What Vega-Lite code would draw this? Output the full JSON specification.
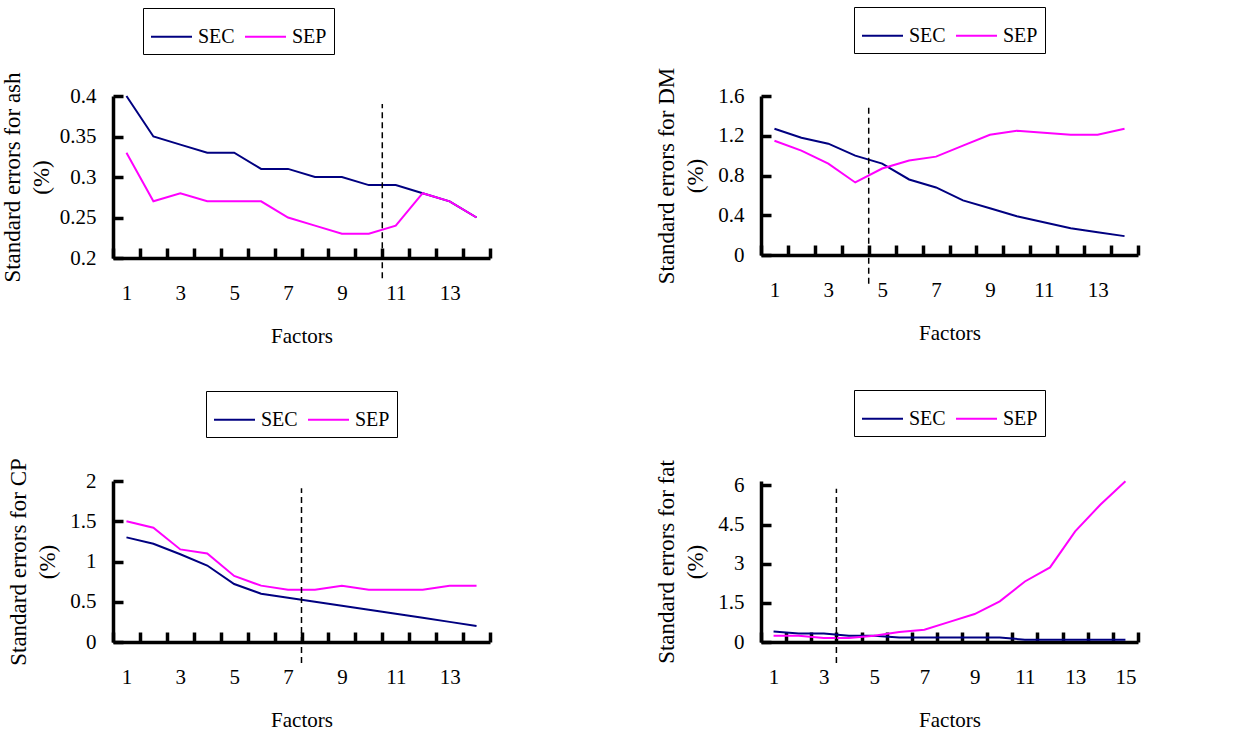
{
  "$schema": "https://vega.github.io/schema/vega-lite/v6.json",
  "padding": {"left": 1, "top": 6, "right": 5, "bottom": 5},
  "background": "white",
  "datasets": {
    "ash": [
      {"factor": 1, "series": "SEC", "value": 0.40}, {"factor": 2, "series": "SEC", "value": 0.35}, {"factor": 3, "series": "SEC", "value": 0.34}, {"factor": 4, "series": "SEC", "value": 0.33}, {"factor": 5, "series": "SEC", "value": 0.33}, {"factor": 6, "series": "SEC", "value": 0.31}, {"factor": 7, "series": "SEC", "value": 0.31}, {"factor": 8, "series": "SEC", "value": 0.30}, {"factor": 9, "series": "SEC", "value": 0.30}, {"factor": 10, "series": "SEC", "value": 0.29}, {"factor": 11, "series": "SEC", "value": 0.29}, {"factor": 12, "series": "SEC", "value": 0.28}, {"factor": 13, "series": "SEC", "value": 0.27}, {"factor": 14, "series": "SEC", "value": 0.25},
      {"factor": 1, "series": "SEP", "value": 0.33}, {"factor": 2, "series": "SEP", "value": 0.27}, {"factor": 3, "series": "SEP", "value": 0.28}, {"factor": 4, "series": "SEP", "value": 0.27}, {"factor": 5, "series": "SEP", "value": 0.27}, {"factor": 6, "series": "SEP", "value": 0.27}, {"factor": 7, "series": "SEP", "value": 0.25}, {"factor": 8, "series": "SEP", "value": 0.24}, {"factor": 9, "series": "SEP", "value": 0.23}, {"factor": 10, "series": "SEP", "value": 0.23}, {"factor": 11, "series": "SEP", "value": 0.24}, {"factor": 12, "series": "SEP", "value": 0.28}, {"factor": 13, "series": "SEP", "value": 0.27}, {"factor": 14, "series": "SEP", "value": 0.25}
    ],
    "dm": [
      {"factor": 1, "series": "SEC", "value": 1.27}, {"factor": 2, "series": "SEC", "value": 1.18}, {"factor": 3, "series": "SEC", "value": 1.12}, {"factor": 4, "series": "SEC", "value": 1.00}, {"factor": 5, "series": "SEC", "value": 0.92}, {"factor": 6, "series": "SEC", "value": 0.76}, {"factor": 7, "series": "SEC", "value": 0.68}, {"factor": 8, "series": "SEC", "value": 0.55}, {"factor": 9, "series": "SEC", "value": 0.47}, {"factor": 10, "series": "SEC", "value": 0.39}, {"factor": 11, "series": "SEC", "value": 0.33}, {"factor": 12, "series": "SEC", "value": 0.27}, {"factor": 13, "series": "SEC", "value": 0.23}, {"factor": 14, "series": "SEC", "value": 0.19},
      {"factor": 1, "series": "SEP", "value": 1.15}, {"factor": 2, "series": "SEP", "value": 1.05}, {"factor": 3, "series": "SEP", "value": 0.92}, {"factor": 4, "series": "SEP", "value": 0.73}, {"factor": 5, "series": "SEP", "value": 0.87}, {"factor": 6, "series": "SEP", "value": 0.95}, {"factor": 7, "series": "SEP", "value": 0.99}, {"factor": 8, "series": "SEP", "value": 1.10}, {"factor": 9, "series": "SEP", "value": 1.21}, {"factor": 10, "series": "SEP", "value": 1.25}, {"factor": 11, "series": "SEP", "value": 1.23}, {"factor": 12, "series": "SEP", "value": 1.21}, {"factor": 13, "series": "SEP", "value": 1.21}, {"factor": 14, "series": "SEP", "value": 1.27}
    ],
    "cp": [
      {"factor": 1, "series": "SEC", "value": 1.30}, {"factor": 2, "series": "SEC", "value": 1.22}, {"factor": 3, "series": "SEC", "value": 1.09}, {"factor": 4, "series": "SEC", "value": 0.95}, {"factor": 5, "series": "SEC", "value": 0.72}, {"factor": 6, "series": "SEC", "value": 0.60}, {"factor": 7, "series": "SEC", "value": 0.55}, {"factor": 8, "series": "SEC", "value": 0.50}, {"factor": 9, "series": "SEC", "value": 0.45}, {"factor": 10, "series": "SEC", "value": 0.40}, {"factor": 11, "series": "SEC", "value": 0.35}, {"factor": 12, "series": "SEC", "value": 0.30}, {"factor": 13, "series": "SEC", "value": 0.25}, {"factor": 14, "series": "SEC", "value": 0.20},
      {"factor": 1, "series": "SEP", "value": 1.50}, {"factor": 2, "series": "SEP", "value": 1.42}, {"factor": 3, "series": "SEP", "value": 1.15}, {"factor": 4, "series": "SEP", "value": 1.10}, {"factor": 5, "series": "SEP", "value": 0.82}, {"factor": 6, "series": "SEP", "value": 0.70}, {"factor": 7, "series": "SEP", "value": 0.65}, {"factor": 8, "series": "SEP", "value": 0.65}, {"factor": 9, "series": "SEP", "value": 0.70}, {"factor": 10, "series": "SEP", "value": 0.65}, {"factor": 11, "series": "SEP", "value": 0.65}, {"factor": 12, "series": "SEP", "value": 0.65}, {"factor": 13, "series": "SEP", "value": 0.70}, {"factor": 14, "series": "SEP", "value": 0.70}
    ],
    "fat": [
      {"factor": 1, "series": "SEC", "value": 0.40}, {"factor": 2, "series": "SEC", "value": 0.33}, {"factor": 3, "series": "SEC", "value": 0.33}, {"factor": 4, "series": "SEC", "value": 0.24}, {"factor": 5, "series": "SEC", "value": 0.24}, {"factor": 6, "series": "SEC", "value": 0.17}, {"factor": 7, "series": "SEC", "value": 0.17}, {"factor": 8, "series": "SEC", "value": 0.17}, {"factor": 9, "series": "SEC", "value": 0.17}, {"factor": 10, "series": "SEC", "value": 0.17}, {"factor": 11, "series": "SEC", "value": 0.09}, {"factor": 12, "series": "SEC", "value": 0.09}, {"factor": 13, "series": "SEC", "value": 0.09}, {"factor": 14, "series": "SEC", "value": 0.09}, {"factor": 15, "series": "SEC", "value": 0.09},
      {"factor": 1, "series": "SEP", "value": 0.24}, {"factor": 2, "series": "SEP", "value": 0.24}, {"factor": 3, "series": "SEP", "value": 0.15}, {"factor": 4, "series": "SEP", "value": 0.15}, {"factor": 5, "series": "SEP", "value": 0.24}, {"factor": 6, "series": "SEP", "value": 0.38}, {"factor": 7, "series": "SEP", "value": 0.47}, {"factor": 8, "series": "SEP", "value": 0.77}, {"factor": 9, "series": "SEP", "value": 1.07}, {"factor": 10, "series": "SEP", "value": 1.56}, {"factor": 11, "series": "SEP", "value": 2.32}, {"factor": 12, "series": "SEP", "value": 2.86}, {"factor": 13, "series": "SEP", "value": 4.24}, {"factor": 14, "series": "SEP", "value": 5.26}, {"factor": 15, "series": "SEP", "value": 6.16}
    ]
  },
  "resolve": {"scale": {"color": "independent", "x": "independent", "y": "independent"}, "legend": {"color": "independent"}},
  "spacing": 43,
  "vconcat": [
    {
      "spacing": 151,
      "resolve": {"scale": {"color": "independent", "x": "independent", "y": "independent"}, "legend": {"color": "independent"}},
      "hconcat": [
        {
          "width": 377, "height": 162,
          "resolve": {"axis": {"x": "independent", "y": "independent"}},
          "layer": [
            {
              "data": {"name": "ash"},
              "mark": {"type": "line", "strokeWidth": 2},
              "encoding": {
                "x": {"field": "factor", "type": "quantitative", "scale": {"domain": [0.5, 14.5], "nice": false, "zero": false},
                  "axis": {"values": [0.5, 1.5, 2.5, 3.5, 4.5, 5.5, 6.5, 7.5, 8.5, 9.5, 10.5, 11.5, 12.5, 13.5, 14.5], "labelExpr": "(datum.value + 0.5) <= 14 && (datum.value + 0.5) % 2 == 1 ? format(datum.value + 0.5, 'd') : ''", "labelOffset": 13.5, "title": "Factors",
                    "domainWidth": 3.5, "domainColor": "black", "ticks": true, "tickSize": -10, "tickWidth": 3.5, "tickColor": "black", "labelPadding": 34, "labelOverlap": false, "labelFlush": false, "labelBound": false, "titlePadding": 22}},
                "y": {"field": "value", "type": "quantitative", "scale": {"domain": [0.2, 0.4], "nice": false, "zero": false},
                  "axis": {"values": [0.2, 0.25, 0.3, 0.35, 0.4], "format": ".2~f", "title": ["Standard errors for ash", "(%)"],
                    "domainWidth": 3.5, "domainColor": "black", "ticks": true, "tickSize": -10, "tickWidth": 3.5, "tickColor": "black", "labelPadding": 27, "labelOverlap": false, "labelFlush": false, "labelBound": false, "titlePadding": 6}},
                "color": {"field": "series", "type": "nominal", "scale": {"domain": ["SEC", "SEP"], "range": ["#000080", "#FF00FF"]},
                  "legend": {"title": null, "legendX": 30, "legendY": -88}}
              }
            },
            {
              "data": {"values": [{}]},
              "mark": {"type": "rule", "strokeDash": [6, 4], "strokeWidth": 1.5, "color": "black"},
              "encoding": {"x": {"datum": 10.5, "type": "quantitative", "axis": null}, "y": {"datum": 0.175, "type": "quantitative", "axis": null}, "y2": {"datum": 0.39}}
            }
          ]
        },
        {
          "width": 377, "height": 159,
          "resolve": {"axis": {"x": "independent", "y": "independent"}},
          "layer": [
            {
              "data": {"name": "dm"},
              "mark": {"type": "line", "strokeWidth": 2},
              "encoding": {
                "x": {"field": "factor", "type": "quantitative", "scale": {"domain": [0.5, 14.5], "nice": false, "zero": false},
                  "axis": {"values": [0.5, 1.5, 2.5, 3.5, 4.5, 5.5, 6.5, 7.5, 8.5, 9.5, 10.5, 11.5, 12.5, 13.5, 14.5], "labelExpr": "(datum.value + 0.5) <= 14 && (datum.value + 0.5) % 2 == 1 ? format(datum.value + 0.5, 'd') : ''", "labelOffset": 13.5, "title": "Factors",
                    "domainWidth": 3.5, "domainColor": "black", "ticks": true, "tickSize": -10, "tickWidth": 3.5, "tickColor": "black", "labelPadding": 34, "labelOverlap": false, "labelFlush": false, "labelBound": false, "titlePadding": 22}},
                "y": {"field": "value", "type": "quantitative", "scale": {"domain": [0, 1.6], "nice": false, "zero": false},
                  "axis": {"values": [0, 0.4, 0.8, 1.2, 1.6], "format": ".1~f", "title": ["Standard errors for DM", "(%)"],
                    "domainWidth": 3.5, "domainColor": "black", "ticks": true, "tickSize": -10, "tickWidth": 3.5, "tickColor": "black", "labelPadding": 27, "labelOverlap": false, "labelFlush": false, "labelBound": false, "titlePadding": 10}},
                "color": {"field": "series", "type": "nominal", "scale": {"domain": ["SEC", "SEP"], "range": ["#000080", "#FF00FF"]},
                  "legend": {"title": null, "legendX": 93, "legendY": -89}}
              }
            },
            {
              "data": {"values": [{}]},
              "mark": {"type": "rule", "strokeDash": [6, 4], "strokeWidth": 1.5, "color": "black"},
              "encoding": {"x": {"datum": 4.5, "type": "quantitative", "axis": null}, "y": {"datum": -0.29, "type": "quantitative", "axis": null}, "y2": {"datum": 1.52}}
            }
          ]
        }
      ]
    },
    {
      "spacing": 151,
      "resolve": {"scale": {"color": "independent", "x": "independent", "y": "independent"}, "legend": {"color": "independent"}},
      "hconcat": [
        {
          "width": 377, "height": 161,
          "resolve": {"axis": {"x": "independent", "y": "independent"}},
          "layer": [
            {
              "data": {"name": "cp"},
              "mark": {"type": "line", "strokeWidth": 2},
              "encoding": {
                "x": {"field": "factor", "type": "quantitative", "scale": {"domain": [0.5, 14.5], "nice": false, "zero": false},
                  "axis": {"values": [0.5, 1.5, 2.5, 3.5, 4.5, 5.5, 6.5, 7.5, 8.5, 9.5, 10.5, 11.5, 12.5, 13.5, 14.5], "labelExpr": "(datum.value + 0.5) <= 14 && (datum.value + 0.5) % 2 == 1 ? format(datum.value + 0.5, 'd') : ''", "labelOffset": 13.5, "title": "Factors",
                    "domainWidth": 3.5, "domainColor": "black", "ticks": true, "tickSize": -10, "tickWidth": 3.5, "tickColor": "black", "labelPadding": 34, "labelOverlap": false, "labelFlush": false, "labelBound": false, "titlePadding": 22}},
                "y": {"field": "value", "type": "quantitative", "scale": {"domain": [0, 2], "nice": false, "zero": false},
                  "axis": {"values": [0, 0.5, 1, 1.5, 2], "format": ".1~f", "title": ["Standard errors for CP", "(%)"],
                    "domainWidth": 3.5, "domainColor": "black", "ticks": true, "tickSize": -10, "tickWidth": 3.5, "tickColor": "black", "labelPadding": 27, "labelOverlap": false, "labelFlush": false, "labelBound": false, "titlePadding": 10}},
                "color": {"field": "series", "type": "nominal", "scale": {"domain": ["SEC", "SEP"], "range": ["#000080", "#FF00FF"]},
                  "legend": {"title": null, "legendX": 93, "legendY": -90}}
              }
            },
            {
              "data": {"values": [{}]},
              "mark": {"type": "rule", "strokeDash": [6, 4], "strokeWidth": 1.5, "color": "black"},
              "encoding": {"x": {"datum": 7.5, "type": "quantitative", "axis": null}, "y": {"datum": -0.26, "type": "quantitative", "axis": null}, "y2": {"datum": 1.91}}
            }
          ]
        },
        {
          "width": 377, "height": 161,
          "resolve": {"axis": {"x": "independent", "y": "independent"}},
          "layer": [
            {
              "data": {"name": "fat"},
              "mark": {"type": "line", "strokeWidth": 2},
              "encoding": {
                "x": {"field": "factor", "type": "quantitative", "scale": {"domain": [0.5, 15.5], "nice": false, "zero": false},
                  "axis": {"values": [0.5, 1.5, 2.5, 3.5, 4.5, 5.5, 6.5, 7.5, 8.5, 9.5, 10.5, 11.5, 12.5, 13.5, 14.5, 15.5], "labelExpr": "(datum.value + 0.5) <= 15 && (datum.value + 0.5) % 2 == 1 ? format(datum.value + 0.5, 'd') : ''", "labelOffset": 12.6, "title": "Factors",
                    "domainWidth": 3.5, "domainColor": "black", "ticks": true, "tickSize": -10, "tickWidth": 3.5, "tickColor": "black", "labelPadding": 34, "labelOverlap": false, "labelFlush": false, "labelBound": false, "titlePadding": 22}},
                "y": {"field": "value", "type": "quantitative", "scale": {"domain": [0, 6.17], "nice": false, "zero": false},
                  "axis": {"values": [0, 1.5, 3, 4.5, 6], "format": ".1~f", "title": ["Standard errors for fat", "(%)"],
                    "domainWidth": 3.5, "domainColor": "black", "ticks": true, "tickSize": -10, "tickWidth": 3.5, "tickColor": "black", "labelPadding": 27, "labelOverlap": false, "labelFlush": false, "labelBound": false, "titlePadding": 10}},
                "color": {"field": "series", "type": "nominal", "scale": {"domain": ["SEC", "SEP"], "range": ["#000080", "#FF00FF"]},
                  "legend": {"title": null, "legendX": 93, "legendY": -91}}
              }
            },
            {
              "data": {"values": [{}]},
              "mark": {"type": "rule", "strokeDash": [6, 4], "strokeWidth": 1.5, "color": "black"},
              "encoding": {"x": {"datum": 3.5, "type": "quantitative", "axis": null}, "y": {"datum": -0.8, "type": "quantitative", "axis": null}, "y2": {"datum": 5.87}}
            }
          ]
        }
      ]
    }
  ],
  "config": {
    "view": {"stroke": null},
    "font": "Liberation Serif",
    "axis": {
      "grid": false, "labelFont": "Liberation Serif", "labelFontSize": 21, "labelColor": "black",
      "titleFont": "Liberation Serif", "titleFontWeight": "normal", "titleColor": "black"
    },
    "axisX": {"titleFontSize": 21},
    "axisY": {"titleFontSize": 23, "titleLineHeight": 29},
    "legend": {
      "orient": "none", "direction": "horizontal", "strokeColor": "black", "fillColor": "white",
      "padding": 7, "labelFont": "Liberation Serif", "labelFontSize": 20, "labelColor": "black",
      "symbolType": "stroke", "symbolSize": 1681, "symbolStrokeWidth": 2, "labelOffset": 5, "columnPadding": 6
    }
  }
}
